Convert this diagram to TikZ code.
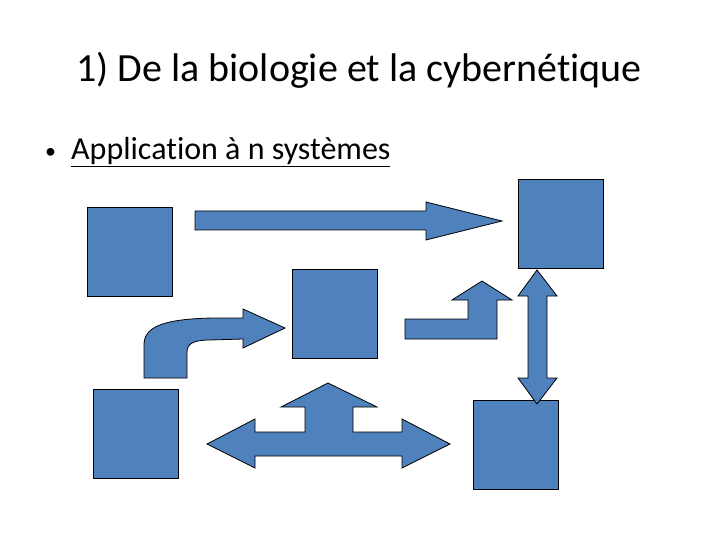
\documentclass[tikz,border=0pt]{standalone}
\usepackage{fontspec}
\setmainfont[Ligatures=NoCommon]{Carlito}
\usetikzlibrary{positioning}
\definecolor{shapeblue}{RGB}{79,129,189}

\begin{document}
\begin{tikzpicture}[
    x=1pt, y=-1pt,
    box/.style={draw, fill=shapeblue, line width=0.8pt, inner sep=0pt,
                minimum width=85pt, minimum height=89pt},
    blockarrow/.style={draw, fill=shapeblue, line width=0.8pt, line join=miter},
    title/.style={font=\fontsize{40}{46}\selectfont, anchor=base},
    item/.style={font=\fontsize{32}{36}\selectfont, anchor=base west, inner sep=0pt}
]
\useasboundingbox (0,0) rectangle (720,540);
% Title and bullet
\node[title] (ttl) at (359,82) {1) De la biologie et la cybernétique};
\node[item, font=\fontsize{22}{26}\selectfont] (dot) at (45,159) {•};
\node[item] (appl) at (71,160) {\underline{Application à n systèmes}};
% Systems
\node[box] (sysA) at (130,251.5) {};
\node[box] (sysB) at (560.5,223.5) {};
\node[box] (sysC) at (334.5,314) {};
\node[box] (sysD) at (135.5,433.5) {};
\node[box] (sysE) at (515.5,444.5) {};
% Long right arrow
\draw[blockarrow] (195,211) -- (426,211) -- (426,202) -- (502,221)
      -- (426,240) -- (426,230) -- (195,230) -- cycle;
% Bent up arrow
\draw[blockarrow] (405,319) -- (468,319) -- (468,300) -- (452,300)
      -- (482,281) -- (512,300) -- (497,300) -- (497,339) -- (405,339) -- cycle;
% Up-down arrow
\draw[blockarrow] (537,270) -- (557,296) -- (547,296) -- (547,378)
      -- (557,378) -- (537,404) -- (518,378) -- (528,378) -- (528,296)
      -- (518,296) -- cycle;
% Left-right-up arrow
\draw[blockarrow] (207,444) -- (255,419) -- (255,432) -- (305,432)
      -- (305,407) -- (281,407) -- (328,383) -- (377,407) -- (353,407)
      -- (353,432) -- (402,432) -- (402,419) -- (450,444) -- (402,468)
      -- (402,456) -- (255,456) -- (255,468) -- cycle;
% Curved arrow
\draw[blockarrow] (144,378) -- (144,345)
      .. controls (144,328) and (160,319) .. (213,318) -- (243,318)
      -- (243,309) -- (285,328) -- (243,348) -- (243,339) -- (210,340)
      .. controls (193,340) and (187,344) .. (187,352) -- (187,378) -- cycle;
\end{tikzpicture}
\end{document}
